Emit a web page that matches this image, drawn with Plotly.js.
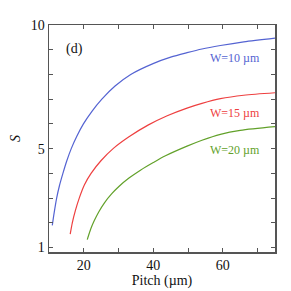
<!DOCTYPE html>
<html><head><meta charset="utf-8">
<script src="https://cdn.plot.ly/plotly-3.0.1.min.js"></script>
<style>html,body{margin:0;padding:0;background:#fff}#c{width:291px;height:291px}</style>
</head><body><div id="c"></div>
<script>
const pitchW10 = [10.95, 11.5, 12.2, 13.0, 14.0, 15.1, 16.4, 18.0, 19.9, 22.3, 25.2, 29.0, 33.5, 40.1, 45.0, 49.7, 54.0, 59.3, 66.0, 75];
const sW10     = [1.9, 2.42, 3.0, 3.5, 4.0, 4.5, 5.0, 5.5, 6.0, 6.5, 7.0, 7.53, 8.0, 8.45, 8.7, 8.88, 9.03, 9.17, 9.32, 9.47];
const pitchW15 = [16.1, 16.7, 17.6, 18.7, 20.2, 22.1, 25.0, 28.6, 33.0, 38.6, 44.0, 49.7, 54.0, 59.3, 66.0, 75];
const sW15     = [1.54, 2.0, 2.5, 3.0, 3.54, 4.0, 4.52, 5.02, 5.48, 5.96, 6.33, 6.64, 6.83, 7.02, 7.16, 7.26];
const pitchW20 = [21.0, 22.0, 23.0, 24.3, 26.0, 28.0, 30.1, 33.0, 36.3, 40.0, 43.5, 49.7, 54.0, 59.3, 65.0, 75];
const sW20     = [1.32, 1.75, 2.08, 2.44, 2.82, 3.17, 3.47, 3.81, 4.13, 4.44, 4.71, 5.10, 5.34, 5.58, 5.74, 5.89];
const seriesLabels = ['W=10 µm', 'W=15 µm', 'W=20 µm'];
const colors = ['#5463d2', '#ee4040', '#62a12a'];
const labelPitch = [63.6, 63.6, 63.6];
const labelS = [8.66, 6.43, 4.94];
const xTickVals = [20, 30, 40, 50, 60, 70];
const xTickText = ['20', '', '40', '', '60', ''];
const yTickVals = [1, 2, 3, 4, 5, 6, 7, 8, 9, 10];
const yTickText = ['1', '', '', '', '5', '', '', '', '', '10'];

const xs = [pitchW10, pitchW15, pitchW20];
const ys = [sW10, sW15, sW20];
const traces = xs.map((x, i) => ({
  x: x, y: ys[i], mode: 'lines', type: 'scatter',
  line: {color: colors[i], width: 1.2, shape: 'spline', smoothing: 0.8},
  hoverinfo: 'none'
}));
const font = 'Liberation Serif, Times New Roman, serif';
const annotations = seriesLabels.map((t, i) => ({
  x: labelPitch[i], y: labelS[i], text: t, showarrow: false,
  font: {family: font, size: 12, color: colors[i]}, xanchor: 'center', yanchor: 'middle'
}));
annotations.push({x: 17.2, y: 9.03, text: '(d)', showarrow: false,
  font: {family: font, size: 14, color: '#111'}, xanchor: 'center', yanchor: 'middle'});
const axisCommon = {
  showgrid: false, zeroline: false, showline: true, linecolor: '#555', linewidth: 1.5,
  mirror: 'ticks', ticks: 'inside', ticklen: 4, tickwidth: 1, tickcolor: '#555',
  tickfont: {family: font, size: 14, color: '#111'}, tickmode: 'array'
};
const layout = {
  width: 291, height: 291, showlegend: false,
  margin: {l: 48.5, r: 16.3, t: 25, b: 39.3},
  paper_bgcolor: '#fff', plot_bgcolor: '#fff',
  xaxis: Object.assign({}, axisCommon, {range: [10, 75], tickvals: xTickVals, ticktext: xTickText,
    title: {text: 'Pitch (µm)', font: {family: font, size: 14, color: '#111'}, standoff: 3}}),
  yaxis: Object.assign({}, axisCommon, {range: [0.82, 10], tickvals: yTickVals, ticktext: yTickText,
    title: {text: '<i>S</i>', font: {family: font, size: 14, color: '#111'}, standoff: 7}}),
  annotations: annotations
};
Plotly.newPlot('c', traces, layout, {staticPlot: true, displayModeBar: false});
</script></body></html>
